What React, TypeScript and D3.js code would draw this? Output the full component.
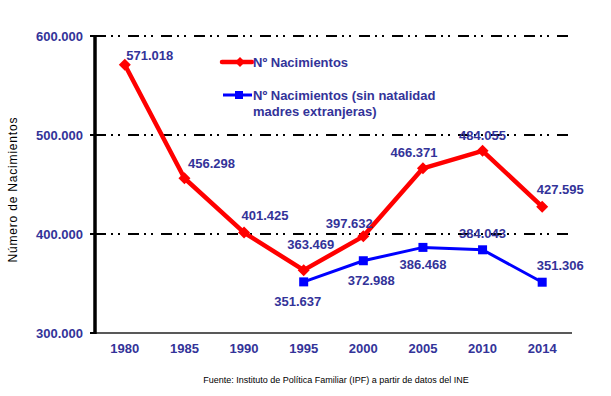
import React from "react";
import * as d3 from "d3";

const years = ["1980", "1985", "1990", "1995", "2000", "2005", "2010", "2014"];
const nacimientos = [571018, 456298, 401425, 363469, 397632, 466371, 484055, 427595];
const sinExtranjerasYears = ["1995", "2000", "2005", "2010", "2014"];
const sinExtranjeras = [351637, 372988, 386468, 384043, 351306];
const yTicks = [300000, 400000, 500000, 600000];

// label offsets (layout) relative to each point: [dx, dyBaseline]
const redLabelOffsets: [number, number][] = [
  [25, -5], [27, -10], [21, -13], [7, -21], [-14, -8.5], [-9, -11.5], [0, -11], [18, -13],
];
const blueLabelOffsets: [number, number][] = [
  [-6, 24.5], [8, 24], [0, 22], [0, -12], [18, -12.5],
];

const W = 611;
const H = 396;
const left = 95;
const right = 572;
const top = 36;
const bottom = 333;

const locale = d3.formatLocale({ decimal: ",", thousands: ".", grouping: [3], currency: ["", "€"] });
const fmt = locale.format(",");

const labelColor = "#333399";
const font = "'Liberation Sans', Arial, sans-serif";

export default function App() {
  const x = d3.scaleBand<string>().domain(years).range([left, right]).padding(0);
  const y = d3.scaleLinear().domain([300000, 600000]).range([bottom, top]);
  const cx = (yr: string) => (x(yr) as number) + x.bandwidth() / 2;

  const redPts = years.map((yr, i) => [cx(yr), y(nacimientos[i])] as [number, number]);
  const bluePts = sinExtranjerasYears.map((yr, i) => [cx(yr), y(sinExtranjeras[i])] as [number, number]);
  const line = d3.line();

  const diamond = (px: number, py: number, r: number) =>
    `M${px},${py - r}L${px + r},${py}L${px},${py + r}L${px - r},${py}Z`;

  return (
    <svg width={W} height={H} style={{ position: "absolute", left: 0, top: 0, background: "#fff" }} fontFamily={font}>
      <rect x={0} y={0} width={W} height={H} fill="#fff" />
      {/* gridlines */}
      {yTicks.filter((t) => t !== 300000).map((t) => (
        <line key={t} x1={left} x2={right} y1={y(t)} y2={y(t)} stroke="#000" strokeWidth={2}
          strokeDasharray="11,5,2,5,2,8" />
      ))}
      {/* x axis */}
      <line x1={left} x2={right} y1={bottom} y2={bottom} stroke="#222" strokeWidth={1.5} />
      {/* y axis */}
      <line x1={left} x2={left} y1={top - 1} y2={bottom + 1} stroke="#000" strokeWidth={3.5} />
      {yTicks.map((t) => (
        <g key={t}>
          <line x1={left - 5} x2={left} y1={y(t)} y2={y(t)} stroke="#000" strokeWidth={2} />
          <text x={83} y={y(t) + 4.5} textAnchor="end" fontSize={13} fontWeight="bold" fill={labelColor}>
            {fmt(t)}
          </text>
        </g>
      ))}
      {years.map((yr) => (
        <text key={yr} x={cx(yr)} y={353} textAnchor="middle" fontSize={13} fontWeight="bold" fill={labelColor}>
          {yr}
        </text>
      ))}
      {/* y title */}
      <text transform={`translate(17,190) rotate(-90)`} textAnchor="middle" fontSize={12} fill="#000"
        textLength={145} lengthAdjust="spacing">
        Número de Nacimientos
      </text>
      {/* red series */}
      <path d={line(redPts) || ""} fill="none" stroke="#ff0000" strokeWidth={4.5} strokeLinejoin="round" />
      {redPts.map(([px, py], i) => (
        <path key={i} d={diamond(px, py, 6)} fill="#ff0000" />
      ))}
      {/* blue series */}
      <path d={line(bluePts) || ""} fill="none" stroke="#0000ff" strokeWidth={3} />
      {bluePts.map(([px, py], i) => (
        <rect key={i} x={px - 4.5} y={py - 4.5} width={9} height={9} fill="#0000ff" />
      ))}
      {/* labels */}
      {redPts.map(([px, py], i) => (
        <text key={i} x={px + redLabelOffsets[i][0]} y={py + redLabelOffsets[i][1]} textAnchor="middle"
          fontSize={13} fontWeight="bold" fill={labelColor}>
          {fmt(nacimientos[i])}
        </text>
      ))}
      {bluePts.map(([px, py], i) => (
        <text key={i} x={px + blueLabelOffsets[i][0]} y={py + blueLabelOffsets[i][1]} textAnchor="middle"
          fontSize={13} fontWeight="bold" fill={labelColor}>
          {fmt(sinExtranjeras[i])}
        </text>
      ))}
      {/* legend */}
      <line x1={222} x2={252} y1={62} y2={62} stroke="#ff0000" strokeWidth={4.5} strokeLinecap="round" />
      <path d={diamond(240, 62, 5)} fill="#ff0000" />
      <text x={253} y={66.5} fontSize={13} fontWeight="bold" fill={labelColor}>Nº Nacimientos</text>
      <line x1={223} x2={252} y1={95} y2={95} stroke="#0000ff" strokeWidth={3} />
      <rect x={235} y={91} width={8} height={8} fill="#0000ff" />
      <text x={253} y={99.5} fontSize={13} fontWeight="bold" fill={labelColor}>Nº Nacimientos (sin natalidad</text>
      <text x={253} y={116} fontSize={13} fontWeight="bold" fill={labelColor}>madres extranjeras)</text>
      {/* footer */}
      <text x={336} y={383} textAnchor="middle" fontSize={9} fill="#000">
        Fuente: Instituto de Política Familiar (IPF) a partir de datos del INE
      </text>
    </svg>
  );
}
